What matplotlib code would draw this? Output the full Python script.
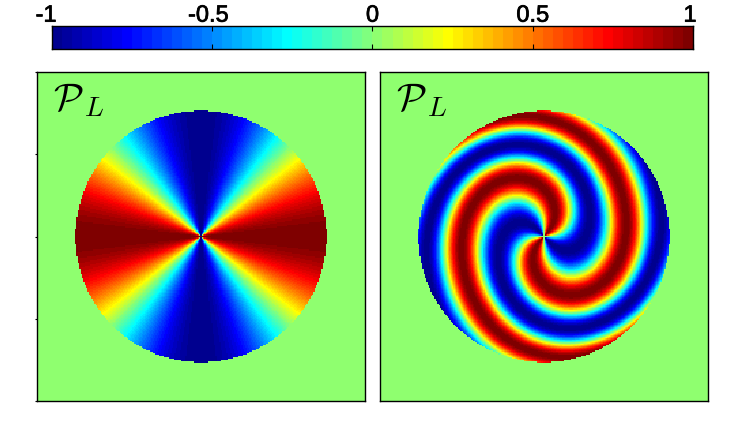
import numpy as np
import matplotlib
matplotlib.use("Agg")
import matplotlib.pyplot as plt
import matplotlib.patheffects as pe
from matplotlib.colors import ListedColormap
from matplotlib.transforms import ScaledTranslation

plt.rcParams['font.family'] = ['Liberation Sans', 'DejaVu Sans']
plt.rcParams['mathtext.fontset'] = 'cm'

tick_values = [-1, -0.5, 0, 0.5, 1]
tick_labels = ['-1', '-0.5', '0', '0.5', '1']
label_main = r'$\mathcal{P}$'
label_sub = r'$L$'
disc_radius = 0.768
azimuthal_order = 2

# Right panel: radius (fraction of disc) and accumulated twist (degrees), read along four rays
ray_angles = [0, 45, 90, 135]
ray_radius = [[0.26, 0.51, 0.62, 0.72, 0.88, 1.05],
              [0.18, 0.33, 0.51, 0.685, 0.80, 0.92, 1.00],
              [0.10, 0.32, 0.545, 0.65, 0.77, 0.915, 1.05],
              [0.13, 0.285, 0.52, 0.58, 0.75, 0.865, 0.98]]
ray_twist = [[90, 180, 270, 360, 450, 530],
             [30, 90, 180, 270, 360, 450, 490],
             [10, 90, 180, 270, 360, 450, 540],
             [22, 30, 90, 180, 270, 360, 440]]

W, H = 745, 430
def rect(x0, y0, x1, y1):
    return [x0 / W, 1 - y1 / H, (x1 - x0) / W, (y1 - y0) / H]

def matlab_jet(n=64):
    x = (np.arange(n) + 1) / n
    r = np.clip(np.minimum(4 * x - 1.5, -4 * x + 4.5), 0, 1)
    g = np.clip(np.minimum(4 * x - 0.5, -4 * x + 3.5), 0, 1)
    b = np.clip(np.minimum(4 * x + 0.5, -4 * x + 2.5), 0, 1)
    return ListedColormap(np.c_[r, g, b])
cmap = matlab_jet()

def polar_grid(n=241):
    u = np.linspace(-1, 1, n)
    X, Y = np.meshgrid(u, u)
    return np.hypot(X, Y) / disc_radius, np.arctan2(Y, X)

def field_left():
    R, T = polar_grid()
    F = np.cos(azimuthal_order * T)
    F[R > 1] = 0
    return F

def basis(r, t):
    radial = [r, r ** 2, r ** 3]
    ang = [np.ones_like(t), np.cos(2 * t), np.sin(2 * t)]
    return np.stack([p * a for p in radial for a in ang], axis=-1)

def field_right():
    R, T = polar_grid()
    r_pts = np.concatenate(ray_radius)
    t_pts = np.concatenate([np.full(len(rr), np.deg2rad(a)) for rr, a in zip(ray_radius, ray_angles)])
    f_pts = np.concatenate(ray_twist)
    coef = np.linalg.lstsq(basis(r_pts, t_pts), f_pts, rcond=None)[0]
    tw = basis(R, T) @ coef
    F = np.sin(azimuthal_order * T - np.deg2rad(tw))
    F[R > 1] = 0
    return F

fig = plt.figure(figsize=(W / 100, H / 100), dpi=100)

cax = fig.add_axes(rect(52, 26, 693, 49))
cax.imshow(np.linspace(-1, 1, 64)[None, :], cmap=cmap, vmin=-1, vmax=1,
           extent=[-1, 1, 0, 1], aspect='auto', interpolation='nearest')
cax.set_yticks([])
cax.set_xticks(tick_values, tick_labels, fontsize=17)
cax.tick_params(axis='x', direction='in', top=True, bottom=True, labeltop=True,
                labelbottom=False, length=3.5, width=0.8, pad=-0.5)
offsets = [-6, -4, 0, 0, -3]
for lab, dx in zip(cax.get_xticklabels(), offsets):
    lab.set_transform(lab.get_transform() + ScaledTranslation(dx / 100, 0, fig.dpi_scale_trans))
    lab.set_path_effects([pe.withStroke(linewidth=0.5, foreground='black')])
for s in cax.spines.values():
    s.set_linewidth(1.0)

for i, (box, data) in enumerate([((37, 72, 365, 401), field_left()),
                                 ((380, 72, 708, 401), field_right())]):
    ax = fig.add_axes(rect(*box))
    ax.imshow(data, cmap=cmap, vmin=-1, vmax=1, origin='lower',
              extent=[-1, 1, -1, 1], aspect='auto', interpolation='nearest')
    ax.set_xticks([])
    if i == 0:
        ax.set_yticks([-1, -0.5, 0, 0.5, 1], [])
        ax.tick_params(axis='y', length=1.5, width=0.8)
    else:
        ax.set_yticks([])
    for txt, px, py, size in [(label_main, 16, 38, 28), (label_sub, 47, 44, 20)]:
        ax.annotate(txt, xy=(0, 1), xycoords='axes fraction',
                    xytext=(px * 0.72, -py * 0.72), textcoords='offset points',
                    fontsize=size, ha='left', va='baseline', color='black')
    for s in ax.spines.values():
        s.set_linewidth(1.0)

fig.savefig('out.png', dpi=100)
